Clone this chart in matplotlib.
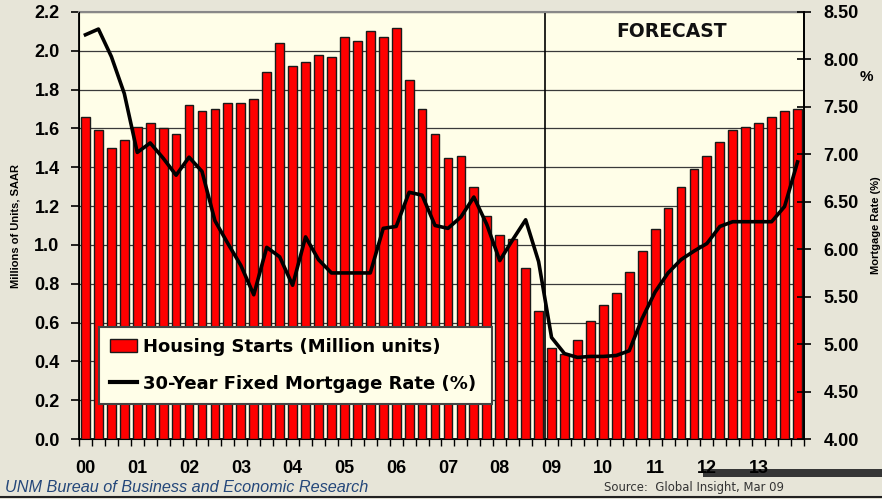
import matplotlib
matplotlib.use("Agg")
import numpy as np
import matplotlib.pyplot as plt
from matplotlib.patches import Patch, Rectangle
from matplotlib.lines import Line2D

plt.rcParams["font.family"] = ["Liberation Sans", "DejaVu Sans"]
WIDE = "DejaVu Sans"  # wider face for the spaced-out legend / labels

# Quarterly data, 2000Q1 - 2013Q4
year_labels = ["00", "01", "02", "03", "04", "05", "06",
               "07", "08", "09", "10", "11", "12", "13"]

housing_starts = [
    1.66, 1.59, 1.50, 1.54,
    1.61, 1.63, 1.60, 1.57,
    1.72, 1.69, 1.70, 1.73,
    1.73, 1.75, 1.89, 2.04,
    1.92, 1.94, 1.98, 1.97,
    2.07, 2.05, 2.10, 2.07,
    2.12, 1.85, 1.70, 1.57,
    1.45, 1.46, 1.30, 1.15,
    1.05, 1.03, 0.88, 0.66,
    0.47, 0.44, 0.51, 0.61,
    0.69, 0.75, 0.86, 0.97,
    1.08, 1.19, 1.30, 1.39,
    1.46, 1.53, 1.59, 1.61,
    1.63, 1.66, 1.69, 1.70,
]

mortgage_rate = [
    8.26, 8.32, 8.03, 7.64,
    7.02, 7.12, 6.96, 6.78,
    6.97, 6.82, 6.30, 6.06,
    5.83, 5.52, 6.02, 5.92,
    5.62, 6.13, 5.89, 5.75,
    5.75, 5.75, 5.75, 6.22,
    6.24, 6.60, 6.57, 6.25,
    6.22, 6.34, 6.55, 6.26,
    5.88, 6.10, 6.31, 5.87,
    5.07, 4.90, 4.86, 4.87,
    4.87, 4.88, 4.93, 5.27,
    5.55, 5.75, 5.89, 5.98,
    6.06, 6.24, 6.29, 6.29,
    6.29, 6.29, 6.45, 6.92,
]

forecast_start = 36  # 2009Q1

bg = "#e7e5d8"
fig = plt.figure(figsize=(8.82, 4.99), dpi=100, facecolor=bg)
ax = fig.add_axes([79 / 882, 60 / 499, 725 / 882, 427 / 499])
ax.set_facecolor("#fffee8")

x = np.arange(len(housing_starts))
ax.bar(x, housing_starts, width=0.68, color="#ff0000",
       edgecolor="#1a1a1a", linewidth=1.0, zorder=3)

ax.set_xlim(-0.5, len(x) - 0.5)
ax.set_ylim(0, 2.2)
ax.set_yticks(np.arange(0, 2.21, 0.2))
ax.set_yticklabels([f"{v:.1f}" for v in np.arange(0, 2.21, 0.2)],
                   fontsize=13, fontweight="bold")
ax.grid(axis="y", color="#3a3a3a", linewidth=0.9, zorder=1)
ax.tick_params(axis="y", direction="out", length=6, width=1.2, pad=8)

# quarter ticks on boundaries, year labels under first quarter
ax.set_xticks(np.arange(-0.5, len(x), 1.0))
ax.set_xticklabels([])
ax.tick_params(axis="x", which="major", direction="out", length=5, width=1.0)
ax.set_xticks(np.arange(0, len(x), 4), minor=True)
ax.set_xticklabels(year_labels, minor=True, fontsize=13, fontweight="bold")
ax.tick_params(axis="x", which="minor", length=0, pad=15)

for side in ["left", "bottom", "right"]:
    ax.spines[side].set_color("black")
    ax.spines[side].set_linewidth(1.3)
ax.spines["top"].set_color("#888888")
ax.spines["top"].set_linewidth(1.5)

ax.axvline(forecast_start - 0.5, color="black", linewidth=1.2, zorder=2)
ax.text(0.818, 0.955, "FORECAST", transform=ax.transAxes, ha="center",
        va="center", fontsize=13.5, fontweight="bold", color="#111111",
        family=WIDE)

ax.set_ylabel("Millions of Units, SAAR", fontsize=8, fontweight="bold",
              labelpad=10)

# mortgage rate on right axis
ax2 = ax.twinx()
ax2.plot(x, mortgage_rate, color="black", linewidth=2.6, zorder=5,
         solid_joinstyle="round")
ax2.set_ylim(4.0, 8.5)
ax2.set_yticks(np.arange(4.0, 8.51, 0.5))
ax2.set_yticklabels([f"{v:.2f}" for v in np.arange(4.0, 8.51, 0.5)],
                    fontsize=13, fontweight="bold")
ax2.tick_params(axis="y", direction="inout", length=10, width=1.2, pad=9)
ax2.spines["right"].set_linewidth(1.3)
ax2.spines["top"].set_visible(False)
ax2.set_ylabel("Mortgage Rate (%)", fontsize=8, fontweight="bold",
               labelpad=9)
fig.text(866 / 882, 1 - 77 / 499, "%", ha="center", va="center",
         fontsize=11, fontweight="bold")

handles = [
    Patch(facecolor="#ff0000", edgecolor="#1a1a1a", linewidth=1.0),
    Line2D([], [], color="black", linewidth=3),
]
labels = ["Housing Starts (Million units)", "30-Year Fixed Mortgage Rate (%)"]
leg = ax2.legend(handles, labels, loc="lower left",
                 bbox_to_anchor=(0.0276, 0.082, 0.542, 0.183),
                 mode="expand", borderaxespad=0, fancybox=False,
                 prop={"size": 13, "weight": "bold", "family": WIDE},
                 handlelength=1.5, handletextpad=0.3, labelspacing=1.05,
                 borderpad=0.62)
leg.get_frame().set_facecolor("#fffee8")
leg.get_frame().set_edgecolor("#444444")
leg.get_frame().set_linewidth(1.5)
leg.get_frame().set_alpha(1)
leg.set_zorder(10)

# footer
fig.text(5 / 882, 1 - 487 / 499, "UNM Bureau of Business and Economic Research",
         ha="left", va="center", fontsize=11.7, style="italic", color="#24477a")
fig.text(604 / 882, 1 - 487 / 499, "Source:  Global Insight, Mar 09",
         ha="left", va="center", fontsize=8.4, color="#333333", family=WIDE)
fig.patches.append(Rectangle((703 / 882, 1 - 477 / 499), 179 / 882, 8 / 499,
                             transform=fig.transFigure, facecolor="#363636",
                             edgecolor="none", zorder=-1))
fig.lines.append(Line2D([0, 1], [1 - 497 / 499, 1 - 497 / 499],
                        transform=fig.transFigure, color="#222222",
                        linewidth=1.5))

fig.savefig("out.png", dpi=100, facecolor=bg)
